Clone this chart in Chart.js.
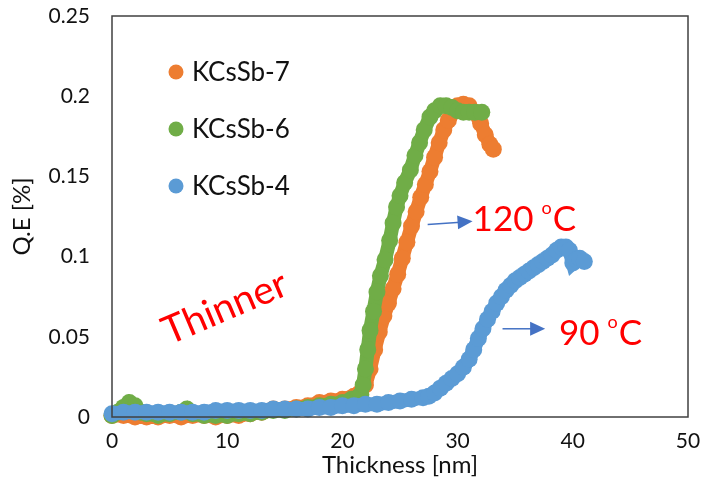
<!DOCTYPE html>
<html lang="en">
<head>
    <meta charset="UTF-8">
    <title>Q.E vs Thickness</title>
    <script src="https://cdn.jsdelivr.net/npm/chart.js"></script>
    <style>
        body {
            margin: 0;
            background-color: white;
        }
        .chart-container {
            width: 702px;
            height: 491px;
        }
    </style>
</head>
<body>
    <div class="chart-container">
        <canvas id="qeChart"></canvas>
    </div>

    <script>
        // Values (thickness in nm, Q.E in %)
        const xTicks = [0, 10, 20, 30, 40, 50];
        const yTicks = [0, 0.05, 0.1, 0.15, 0.2, 0.25];

        const k7Thickness = [0, 1, 2, 3, 4, 5, 6, 7, 8, 9, 10, 11, 12, 13, 14, 15, 16, 17, 18, 19, 20, 21, 21.5,
            22.0, 22.4, 22.8, 23.2, 23.6, 24.0, 24.4, 24.8, 25.2, 25.6, 26.0, 26.4, 26.8, 27.2, 27.6, 28.0,
            28.4, 28.8, 29.2, 29.6, 30.0, 30.5, 31.0, 31.5, 32.0, 32.4, 32.8, 33.1];
        const k7QE = [0.001, 0.001, 0.000, 0.000, 0.000, 0.001, 0.000, 0.001, 0.001, 0.000, 0.001, 0.001, 0.002, 0.003, 0.005, 0.005, 0.006, 0.007, 0.009, 0.010, 0.011, 0.013, 0.015,
            0.020, 0.030, 0.042, 0.053, 0.063, 0.071, 0.080, 0.089, 0.099, 0.109, 0.119, 0.128, 0.137, 0.145, 0.153, 0.162,
            0.171, 0.179, 0.185, 0.190, 0.194, 0.195, 0.194, 0.190, 0.183, 0.176, 0.170, 0.167];

        const k6Thickness = [0, 0.5, 1.0, 1.5, 2.0, 2.5, 3, 4, 5, 6, 6.5, 7, 8, 9, 10, 11, 12, 13, 14, 15, 16, 17, 18, 19, 20, 20.8, 21.3,
            21.6, 21.8, 22.0, 22.2, 22.4, 22.7, 23.0, 23.3, 23.7, 24.1, 24.4, 24.7, 25.0, 25.4, 25.9, 26.3, 26.7, 27.1,
            27.6, 28.0, 28.5, 29.0, 29.5, 30.0, 30.5, 31.0, 31.5, 32.1];
        const k6QE = [0.001, 0.003, 0.006, 0.009, 0.007, 0.003, 0.002, 0.001, 0.002, 0.003, 0.005, 0.002, 0.001, 0.001, 0.001, 0.002, 0.002, 0.003, 0.004, 0.004, 0.005, 0.006, 0.007, 0.008, 0.009, 0.011, 0.012,
            0.014, 0.020, 0.030, 0.042, 0.054, 0.066, 0.078, 0.088, 0.098, 0.110, 0.121, 0.131, 0.138, 0.146, 0.154, 0.163, 0.171, 0.179,
            0.187, 0.191, 0.194, 0.194, 0.193, 0.191, 0.190, 0.190, 0.190, 0.190];

        const k4Thickness = [0, 1, 2, 3, 4, 5, 6, 7, 8, 9, 10, 11, 12, 13, 14, 15, 16, 17, 18, 19, 20, 21, 22, 23, 24, 25, 26,
            27, 27.5, 28, 28.5, 29, 29.5, 30, 30.5, 31, 31.4, 31.8, 32.2, 32.6, 33.0, 33.4, 33.8, 34.2, 34.6, 35.0,
            35.4, 35.8, 36.2, 36.6, 37.0, 37.4, 37.8, 38.2, 38.6, 39.0, 39.4, 39.7, 40.0, 40.3, 40.6, 41.0];
        const k4QE = [0.002, 0.003, 0.003, 0.003, 0.003, 0.003, 0.003, 0.003, 0.003, 0.004, 0.004, 0.004, 0.004, 0.004, 0.005, 0.005, 0.005, 0.005, 0.006, 0.006, 0.007, 0.007, 0.008, 0.008, 0.009, 0.010, 0.011,
            0.012, 0.013, 0.015, 0.018, 0.021, 0.024, 0.027, 0.031, 0.036, 0.042, 0.049, 0.055, 0.061, 0.066, 0.071, 0.075, 0.079, 0.082, 0.085,
            0.087, 0.089, 0.091, 0.093, 0.095, 0.097, 0.099, 0.101, 0.104, 0.106, 0.106, 0.104, 0.096, 0.098, 0.099, 0.097];

        const seriesNames = ['KCsSb-7', 'KCsSb-6', 'KCsSb-4'];
        const seriesColors = ['#ED7D31', '#70AD47', '#5B9BD5'];

        const FONT = 'Lato, "Open Sans", sans-serif';

        function toPoints(xs, ys) {
            return xs.map((x, i) => ({ x: x, y: ys[i] }));
        }

        function makeDataset(i, xs, ys, order) {
            return {
                label: seriesNames[i],
                data: toPoints(xs, ys),
                showLine: true,
                borderColor: seriesColors[i],
                backgroundColor: seriesColors[i],
                borderWidth: 14,
                pointRadius: 8.5,
                pointBorderWidth: 0,
                clip: false,
                order: order
            };
        }

        // legend, plot frame and the red labels
        const decorations = {
            id: 'decorations',
            afterDatasetsDraw(chart) {
                const ctx = chart.ctx;
                const area = chart.chartArea;
                const xs = chart.scales.x;
                const ys = chart.scales.y;
                ctx.save();

                ctx.strokeStyle = '#404040';
                ctx.lineWidth = 1.5;
                ctx.strokeRect(area.left, area.top, area.right - area.left, area.bottom - area.top);

                // legend inside the plot
                ctx.font = '26px ' + FONT;
                ctx.textBaseline = 'middle';
                const legendY = [72, 129, 186];
                seriesNames.forEach((name, i) => {
                    ctx.fillStyle = seriesColors[i];
                    ctx.beginPath();
                    ctx.arc(176, legendY[i], 7.5, 0, Math.PI * 2);
                    ctx.fill();
                    ctx.fillStyle = '#111';
                    ctx.textAlign = 'left';
                    ctx.fillText(name, 192, legendY[i] + 1);
                });

                // "Thinner"
                ctx.save();
                ctx.translate(xs.getPixelForValue(9.8), ys.getPixelForValue(0.068));
                ctx.rotate(-23 * Math.PI / 180);
                ctx.fillStyle = '#FF0000';
                ctx.font = '39px ' + FONT;
                ctx.textAlign = 'center';
                ctx.fillText('Thinner', 0, 0);
                ctx.restore();

                function arrow(x0, y0, x1, y1) {
                    const a = Math.atan2(y1 - y0, x1 - x0);
                    ctx.strokeStyle = '#4472C4';
                    ctx.fillStyle = '#4472C4';
                    ctx.lineWidth = 1.5;
                    ctx.beginPath();
                    ctx.moveTo(x0, y0);
                    ctx.lineTo(x1 - 12 * Math.cos(a), y1 - 12 * Math.sin(a));
                    ctx.stroke();
                    ctx.beginPath();
                    ctx.moveTo(x1, y1);
                    ctx.lineTo(x1 - 15 * Math.cos(a) + 7 * Math.sin(a), y1 - 15 * Math.sin(a) - 7 * Math.cos(a));
                    ctx.lineTo(x1 - 15 * Math.cos(a) - 7 * Math.sin(a), y1 - 15 * Math.sin(a) + 7 * Math.cos(a));
                    ctx.closePath();
                    ctx.fill();
                }

                function tempLabel(num, x, y, size) {
                    ctx.fillStyle = '#FF0000';
                    ctx.textAlign = 'left';
                    ctx.textBaseline = 'middle';
                    ctx.font = size + 'px ' + FONT;
                    ctx.fillText(num + ' ', x, y);
                    let w = ctx.measureText(num + ' ').width;
                    ctx.font = Math.round(size * 0.5) + 'px ' + FONT;
                    ctx.fillText('o', x + w - 1, y - size * 0.32);
                    w += ctx.measureText('o').width;
                    ctx.font = size + 'px ' + FONT;
                    ctx.fillText('C', x + w, y);
                }

                arrow(xs.getPixelForValue(27.4), ys.getPixelForValue(0.120), xs.getPixelForValue(31.3), ys.getPixelForValue(0.122));
                tempLabel('120', xs.getPixelForValue(31.3), ys.getPixelForValue(0.123), 35);

                arrow(xs.getPixelForValue(33.9), ys.getPixelForValue(0.055), xs.getPixelForValue(37.6), ys.getPixelForValue(0.055));
                tempLabel('90', xs.getPixelForValue(38.8), ys.getPixelForValue(0.052), 35);

                ctx.restore();
            }
        };

        const ctx = document.getElementById('qeChart').getContext('2d');
        new Chart(ctx, {
            type: 'scatter',
            data: {
                datasets: [
                    makeDataset(0, k7Thickness, k7QE, 3),
                    makeDataset(1, k6Thickness, k6QE, 2),
                    makeDataset(2, k4Thickness, k4QE, 1)
                ]
            },
            options: {
                responsive: true,
                maintainAspectRatio: false,
                animation: false,
                layout: {
                    padding: { top: 16, right: 14, bottom: 0, left: 0 }
                },
                plugins: {
                    legend: { display: false },
                    tooltip: { enabled: false }
                },
                scales: {
                    x: {
                        type: 'linear',
                        min: xTicks[0],
                        max: xTicks[xTicks.length - 1],
                        afterBuildTicks: (scale) => { scale.ticks = xTicks.map(v => ({ value: v })); },
                        afterFit: (scale) => {
                            scale.height = 74;
                            scale.paddingLeft = 0;
                            scale.paddingRight = 0;
                        },
                        grid: { display: false, drawTicks: false },
                        border: { display: false },
                        ticks: {
                            padding: 12,
                            color: '#111',
                            font: { family: FONT, size: 21 }
                        },
                        title: {
                            display: true,
                            text: 'Thickness [nm]',
                            color: '#111',
                            padding: { top: 0, bottom: 11 },
                            font: { family: FONT, size: 24 }
                        }
                    },
                    y: {
                        type: 'linear',
                        min: yTicks[0],
                        max: yTicks[yTicks.length - 1],
                        afterBuildTicks: (scale) => { scale.ticks = yTicks.map(v => ({ value: v })); },
                        afterFit: (scale) => {
                            scale.width = 112;
                            scale.paddingTop = 0;
                            scale.paddingBottom = 0;
                        },
                        grid: { display: false, drawTicks: false },
                        border: { display: false },
                        ticks: {
                            padding: 22,
                            color: '#111',
                            font: { family: FONT, size: 21 },
                            callback: (v) => String(+v.toFixed(2))
                        },
                        title: {
                            display: true,
                            text: 'Q.E [%]',
                            color: '#111',
                            padding: { top: 8, bottom: 0 },
                            font: { family: FONT, size: 24 }
                        }
                    }
                }
            },
            plugins: [decorations]
        });
    </script>
</body>
</html>
